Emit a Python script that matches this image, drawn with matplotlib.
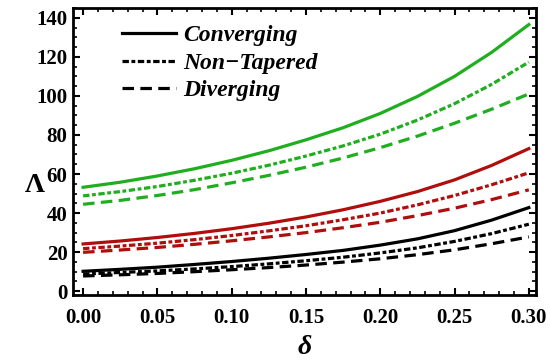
import numpy as np
import matplotlib
matplotlib.use("Agg")
import matplotlib.pyplot as plt
from matplotlib.ticker import MultipleLocator, FormatStrFormatter

# delta values (0.025 steps)
delta = [0.000, 0.025, 0.050, 0.075, 0.100, 0.125, 0.150,
         0.175, 0.200, 0.225, 0.250, 0.275, 0.300]

# green group
green_conv = [53.2, 55.8, 59.0, 62.7, 67.0, 71.9, 77.5, 83.7, 91.0, 99.7, 110.0, 122.3, 136.5]
green_flat = [48.8, 51.0, 53.6, 56.8, 60.4, 64.5, 69.2, 74.4, 80.4, 87.6, 96.0, 105.9, 117.3]
green_div = [44.5, 46.5, 49.0, 52.0, 55.5, 59.3, 63.5, 68.2, 73.5, 79.4, 86.0, 93.2, 101.0]

# red group
red_conv = [24.2, 25.7, 27.5, 29.6, 32.0, 34.8, 38.0, 41.7, 46.0, 51.0, 57.0, 64.4, 73.0]
red_flat = [21.8, 23.1, 24.6, 26.4, 28.5, 30.9, 33.5, 36.6, 40.0, 44.2, 49.0, 54.5, 60.6]
red_div = [19.9, 21.1, 22.4, 24.0, 25.8, 27.8, 30.0, 32.5, 35.3, 38.7, 42.5, 46.9, 51.9]

# black group
black_conv = [10.2, 11.2, 12.3, 13.7, 15.2, 16.9, 18.8, 20.9, 23.6, 26.8, 31.0, 36.4, 42.8]
black_flat = [8.8, 9.6, 10.4, 11.4, 12.6, 14.0, 15.6, 17.4, 19.6, 22.2, 25.5, 29.5, 34.3]
black_div = [7.8, 8.4, 9.1, 10.0, 11.0, 12.1, 13.4, 14.9, 16.6, 18.7, 21.2, 24.3, 27.8]

labels = ["Converging", "Non\u2212Tapered", "Diverging"]

GREEN = "#1fae1f"
RED = "#b00d0d"
BLACK = "#000000"

plt.rcParams['font.family'] = ['Liberation Serif', 'DejaVu Serif']

lw = 2.3
styles = ["-", (0, (2.0, 0.8, 1.2, 0.8)), (0, (3.6, 2.0))]

fig = plt.figure(figsize=(5.5, 3.63), dpi=100)
ax = fig.add_axes([0.133, 0.187, 0.842, 0.791])

groups = [(GREEN, [green_conv, green_flat, green_div]),
          (RED, [red_conv, red_flat, red_div]),
          (BLACK, [black_conv, black_flat, black_div])]
for color, series in groups:
    for vals, ls in zip(series, styles):
        ax.plot(delta, vals, color=color, lw=lw, linestyle=ls)

# legend handles in black
handles = []
for ls, lab in zip(styles, labels):
    h, = ax.plot([], [], color="black", lw=lw, linestyle=ls, label=lab)
    handles.append(h)
leg = ax.legend(handles=handles, loc="upper left", bbox_to_anchor=(0.06, 1.015),
                frameon=False, handlelength=2.3, handletextpad=0.3,
                labelspacing=0.25,
                prop={'family': ['Liberation Serif'], 'style': 'italic',
                      'weight': 'bold', 'size': 17})

ax.set_xlim(-0.0067, 0.305)
ax.set_ylim(-2, 145)
ax.xaxis.set_major_locator(MultipleLocator(0.05))
ax.xaxis.set_minor_locator(MultipleLocator(0.01))
ax.yaxis.set_major_locator(MultipleLocator(20))
ax.yaxis.set_minor_locator(MultipleLocator(5))
ax.xaxis.set_major_formatter(FormatStrFormatter("%.2f"))

ax.tick_params(which="both", direction="in", top=True, right=True)
ax.tick_params(which="major", length=5, width=1.5, labelsize=15)
ax.tick_params(axis="x", which="major", pad=9)
ax.tick_params(axis="y", which="major", pad=4)
ax.tick_params(which="minor", length=3, width=1.2)
for lab in ax.get_xticklabels() + ax.get_yticklabels():
    lab.set_fontweight("bold")
for sp in ax.spines.values():
    sp.set_linewidth(2)

ax.set_xlabel("\u03b4", fontsize=20, fontstyle="italic", fontweight="bold")
ax.xaxis.set_label_coords(0.5, -0.14)
ax.set_ylabel("\u039b", fontsize=20, fontweight="bold", rotation=0, va="center")
ax.yaxis.set_label_coords(-0.082, 0.383)

fig.savefig("out.png", dpi=100)
